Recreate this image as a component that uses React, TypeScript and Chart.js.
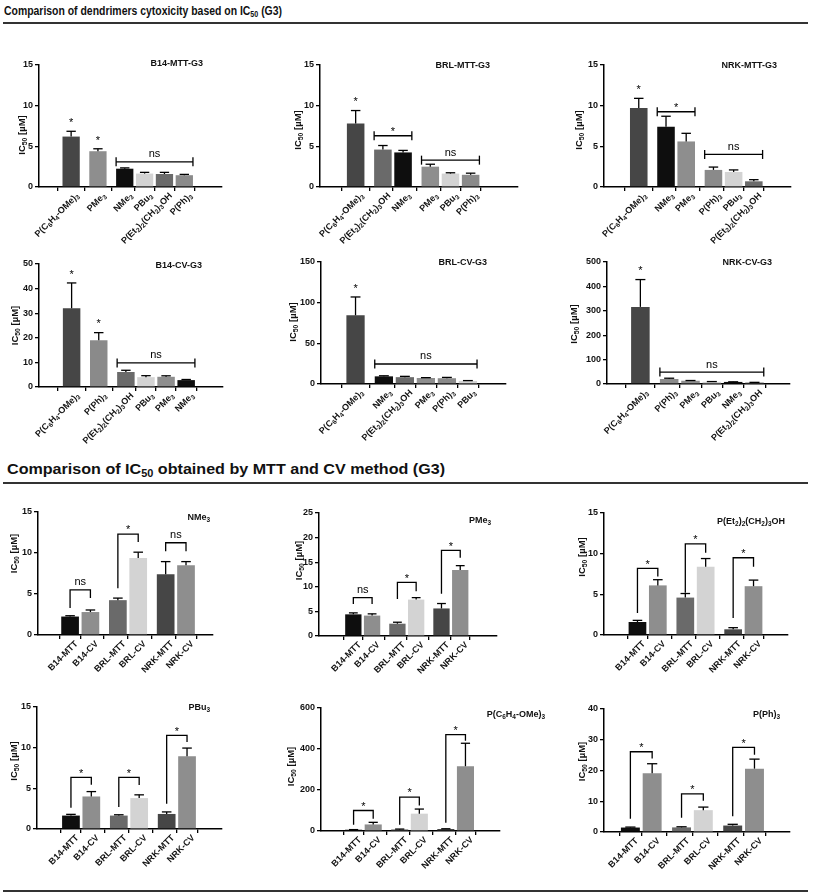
import React, { useEffect, useLayoutEffect, useRef } from 'react';
import { Chart, registerables } from 'chart.js';

Chart.register(...registerables);

const FONT = "'Liberation Sans', Arial, Helvetica, sans-serif";

// ---------------- Top section: cytotoxicity per cell line / method ----------------
const B14_MTT_LABELS = ['P(C₆H₄-OMe)₃', 'PMe₃', 'NMe₃', 'PBu₃', 'P(Et₂)₂(CH₂)₃OH', 'P(Ph)₃'];
const B14_MTT_VALUES = [6.2, 4.4, 2.25, 1.65, 1.6, 1.45];
const B14_MTT_ERRORS = [0.65, 0.3, 0.1, 0.15, 0.2, 0.1];
const B14_MTT_GROUPS = [0, 1, 2, 2, 2, 2];
const B14_MTT_STARS = [0, 1];
const B14_MTT_BRACKETS = [{ from: 2, to: 5, y: 3.1, label: 'ns' }];

const BRL_MTT_LABELS = ['P(C₆H₄-OMe)₃', 'P(Et₂)₂(CH₂)₃OH', 'NMe₃', 'PMe₃', 'PBu₃', 'P(Ph)₃'];
const BRL_MTT_VALUES = [7.8, 4.6, 4.25, 2.5, 1.65, 1.5];
const BRL_MTT_ERRORS = [1.6, 0.5, 0.25, 0.3, 0.1, 0.2];
const BRL_MTT_GROUPS = [0, 1, 1, 2, 2, 2];
const BRL_MTT_STARS = [0];
const BRL_MTT_BRACKETS = [
  { from: 1, to: 2, y: 6.3, label: '*' },
  { from: 3, to: 5, y: 3.3, label: 'ns' },
];

const NRK_MTT_LABELS = ['P(C₆H₄-OMe)₃', 'NMe₃', 'PMe₃', 'P(Ph)₃', 'PBu₃', 'P(Et₂)₂(CH₂)₃OH'];
const NRK_MTT_VALUES = [9.7, 7.4, 5.6, 2.1, 1.85, 0.7];
const NRK_MTT_ERRORS = [1.2, 1.3, 1.0, 0.35, 0.25, 0.2];
const NRK_MTT_GROUPS = [0, 1, 1, 2, 2, 2];
const NRK_MTT_STARS = [0];
const NRK_MTT_BRACKETS = [
  { from: 1, to: 2, y: 9.25, label: '*' },
  { from: 3, to: 5, y: 4.0, label: 'ns' },
];

const B14_CV_LABELS = ['P(C₆H₄-OMe)₃', 'P(Ph)₃', 'P(Et₂)₂(CH₂)₃OH', 'PBu₃', 'PMe₃', 'NMe₃'];
const B14_CV_VALUES = [32, 19, 6.1, 4.0, 4.15, 2.8];
const B14_CV_ERRORS = [10.3, 3.1, 0.7, 0.6, 0.4, 0.25];
const B14_CV_GROUPS = [0, 1, 2, 2, 2, 2];
const B14_CV_STARS = [0, 1];
const B14_CV_BRACKETS = [{ from: 2, to: 5, y: 9.8, label: 'ns' }];

const BRL_CV_LABELS = ['P(C₆H₄-OMe)₃', 'NMe₃', 'P(Et₂)₂(CH₂)₃OH', 'PMe₃', 'P(Ph)₃', 'PBu₃'];
const BRL_CV_VALUES = [84.5, 9.4, 8.4, 7.4, 7.1, 3.8];
const BRL_CV_ERRORS = [22.5, 0.7, 1.0, 0.4, 1.0, 0.4];
const BRL_CV_GROUPS = [0, 1, 1, 1, 1, 1];
const BRL_CV_STARS = [0];
const BRL_CV_BRACKETS = [{ from: 1, to: 5, y: 24.6, label: 'ns' }];

const NRK_CV_LABELS = ['P(C₆H₄-OMe)₃', 'P(Ph)₃', 'PMe₃', 'PBu₃', 'NMe₃', 'P(Et₂)₂(CH₂)₃OH'];
const NRK_CV_VALUES = [316, 20.6, 13.4, 9.0, 8.5, 6.0];
const NRK_CV_ERRORS = [112, 3.1, 0.9, 1.0, 0.45, 0.75];
const NRK_CV_GROUPS = [0, 1, 1, 1, 1, 1];
const NRK_CV_STARS = [0];
const NRK_CV_BRACKETS = [{ from: 1, to: 5, y: 49, label: 'ns' }];

// ---------------- Bottom section: MTT vs CV per compound ----------------
const METHOD_LABELS = ['B14-MTT', 'B14-CV', 'BRL-MTT', 'BRL-CV', 'NRK-MTT', 'NRK-CV'];
const METHOD_GROUPS = [0, 0, 1, 1, 2, 2];

const NME3_VALUES = [2.25, 2.8, 4.25, 9.4, 7.4, 8.5];
const NME3_ERRORS = [0.1, 0.25, 0.25, 0.7, 1.55, 0.45];
const NME3_HOOKS = [
  { from: 0, to: 1, y: 5.5, leg1: 3.3, leg2: 4.5, label: 'ns' },
  { from: 2, to: 3, y: 12.3, leg1: 5.7, leg2: 11.35, label: '*' },
  { from: 4, to: 5, y: 11.25, leg1: 10.2, leg2: 10.2, label: 'ns' },
];

const PME3_VALUES = [4.4, 4.15, 2.5, 7.4, 5.6, 13.4];
const PME3_ERRORS = [0.3, 0.35, 0.3, 0.4, 1.0, 0.9];
const PME3_HOOKS = [
  { from: 0, to: 1, y: 7.8, leg1: 6.5, leg2: 6.5, label: 'ns' },
  { from: 2, to: 3, y: 10.9, leg1: 7.5, leg2: 9.1, label: '*' },
  { from: 4, to: 5, y: 17.4, leg1: 8.6, leg2: 15.9, label: '*' },
];

const PET_VALUES = [1.6, 6.1, 4.6, 8.4, 0.7, 6.0];
const PET_ERRORS = [0.2, 0.7, 0.5, 1.0, 0.2, 0.75];
const PET_HOOKS = [
  { from: 0, to: 1, y: 8.2, leg1: 2.7, leg2: 7.2, label: '*' },
  { from: 2, to: 3, y: 11.2, leg1: 5.2, leg2: 10.1, label: '*' },
  { from: 4, to: 5, y: 9.5, leg1: 2.1, leg2: 8.4, label: '*' },
];

const PBU3_VALUES = [1.65, 4.0, 1.65, 3.8, 1.85, 8.95];
const PBU3_ERRORS = [0.15, 0.6, 0.1, 0.4, 0.25, 1.0];
const PBU3_HOOKS = [
  { from: 0, to: 1, y: 6.35, leg1: 2.6, leg2: 5.45, label: '*' },
  { from: 2, to: 3, y: 6.35, leg1: 2.7, leg2: 5.4, label: '*' },
  { from: 4, to: 5, y: 11.5, leg1: 3.1, leg2: 10.7, label: '*' },
];

const PC6_VALUES = [6.2, 32, 7.8, 84.5, 9.7, 316];
const PC6_ERRORS = [0.65, 10.3, 1.6, 22.5, 1.2, 112];
const PC6_HOOKS = [
  { from: 0, to: 1, y: 100, leg1: 30, leg2: 60, label: '*' },
  { from: 2, to: 3, y: 165, leg1: 30, leg2: 125, label: '*' },
  { from: 4, to: 5, y: 470, leg1: 40, leg2: 440, label: '*' },
];

const PPH3_VALUES = [1.45, 19.1, 1.5, 7.1, 2.1, 20.6];
const PPH3_ERRORS = [0.15, 3.1, 0.2, 1.0, 0.4, 3.1];
const PPH3_HOOKS = [
  { from: 0, to: 1, y: 26.1, leg1: 4.3, leg2: 23.9, label: '*' },
  { from: 2, to: 3, y: 12.4, leg1: 4.6, leg2: 10.2, label: '*' },
  { from: 4, to: 5, y: 27.5, leg1: 5.1, leg2: 25.1, label: '*' },
];

const Y_TITLE = 'IC₅₀ [µM]';

// ---------------- Styles ----------------
const COMPOUND_COLORS: Record<string, string> = {
  'P(C₆H₄-OMe)₃': '#464646',
  'PMe₃': '#8e8e8e',
  'NMe₃': '#0e0e0e',
  'PBu₃': '#d3d3d3',
  'P(Et₂)₂(CH₂)₃OH': '#6a6a6a',
  'P(Ph)₃': '#8a8a8a',
};
const METHOD_COLORS: Record<string, string> = {
  'B14-MTT': '#0e0e0e',
  'B14-CV': '#8e8e8e',
  'BRL-MTT': '#6a6a6a',
  'BRL-CV': '#d3d3d3',
  'NRK-MTT': '#464646',
  'NRK-CV': '#8e8e8e',
};

const GROUP_GAP = 0.35;
const PADL = 14;
const PADT = 14;
const PADR = 60;
const XH = 80;
const TICK_SIZE = 9;

type Flat = { from: number; to: number; y: number; label: string };
type Hook = { from: number; to: number; y: number; leg1: number; leg2: number; label: string };

interface PanelDef {
  title: string;
  labels: string[];
  values: number[];
  errors: number[];
  groups: number[];
  colors: string[];
  yMax: number;
  yStep: number;
  stars?: number[];
  flat?: Flat[];
  hooks?: Hook[];
  area: [number, number, number, number];
  yTitleGap: number;
  yTitleDy: number;
  padUnits: [number, number];
  titleRight: number;
  titleDy: number;
}

const top = (labels: string[]) => labels.map((l) => COMPOUND_COLORS[l]);
const bottom = METHOD_LABELS.map((l) => METHOD_COLORS[l]);

const PANELS: PanelDef[] = [
  { title: 'B14-MTT-G3', labels: B14_MTT_LABELS, values: B14_MTT_VALUES, errors: B14_MTT_ERRORS, groups: B14_MTT_GROUPS, colors: top(B14_MTT_LABELS), yMax: 15, yStep: 5, stars: B14_MTT_STARS, flat: B14_MTT_BRACKETS, area: [39, 65, 222, 187], yTitleGap: 17, yTitleDy: 9, padUnits: [0.85, 1.13], titleRight: 19, titleDy: -2 },
  { title: 'BRL-MTT-G3', labels: BRL_MTT_LABELS, values: BRL_MTT_VALUES, errors: BRL_MTT_ERRORS, groups: BRL_MTT_GROUPS, colors: top(BRL_MTT_LABELS), yMax: 15, yStep: 5, stars: BRL_MTT_STARS, flat: BRL_MTT_BRACKETS, area: [320, 65, 518, 187], yTitleGap: 22, yTitleDy: 4, padUnits: [0.95, 1.53], titleRight: 28, titleDy: 0 },
  { title: 'NRK-MTT-G3', labels: NRK_MTT_LABELS, values: NRK_MTT_VALUES, errors: NRK_MTT_ERRORS, groups: NRK_MTT_GROUPS, colors: top(NRK_MTT_LABELS), yMax: 15, yStep: 5, stars: NRK_MTT_STARS, flat: NRK_MTT_BRACKETS, area: [604, 65, 791, 187], yTitleGap: 25, yTitleDy: 4, padUnits: [0.95, 1.07], titleRight: 14, titleDy: 0 },
  { title: 'B14-CV-G3', labels: B14_CV_LABELS, values: B14_CV_VALUES, errors: B14_CV_ERRORS, groups: B14_CV_GROUPS, colors: top(B14_CV_LABELS), yMax: 50, yStep: 10, stars: B14_CV_STARS, flat: B14_CV_BRACKETS, area: [39, 264, 223, 387], yTitleGap: 24, yTitleDy: 0, padUnits: [0.86, 1.07], titleRight: 21, titleDy: 1 },
  { title: 'BRL-CV-G3', labels: BRL_CV_LABELS, values: BRL_CV_VALUES, errors: BRL_CV_ERRORS, groups: BRL_CV_GROUPS, colors: top(BRL_CV_LABELS), yMax: 150, yStep: 50, stars: BRL_CV_STARS, flat: BRL_CV_BRACKETS, area: [321, 262, 506, 384], yTitleGap: 28, yTitleDy: -1, padUnits: [0.91, 1.08], titleRight: 19, titleDy: 0 },
  { title: 'NRK-CV-G3', labels: NRK_CV_LABELS, values: NRK_CV_VALUES, errors: NRK_CV_ERRORS, groups: NRK_CV_GROUPS, colors: top(NRK_CV_LABELS), yMax: 500, yStep: 100, stars: NRK_CV_STARS, flat: NRK_CV_BRACKETS, area: [607, 262, 790, 384], yTitleGap: 33, yTitleDy: 1, padUnits: [0.85, 0.95], titleRight: 18, titleDy: 0 },
  { title: 'NMe₃', labels: METHOD_LABELS, values: NME3_VALUES, errors: NME3_ERRORS, groups: METHOD_GROUPS, colors: bottom, yMax: 15, yStep: 5, hooks: NME3_HOOKS, area: [38, 512, 213, 635], yTitleGap: 24, yTitleDy: -20, padUnits: [0.86, 0.61], titleRight: 3, titleDy: 5 },
  { title: 'PMe₃', labels: METHOD_LABELS, values: PME3_VALUES, errors: PME3_ERRORS, groups: METHOD_GROUPS, colors: bottom, yMax: 25, yStep: 5, hooks: PME3_HOOKS, area: [319, 513, 497, 636], yTitleGap: 20, yTitleDy: -14, padUnits: [1.04, 1.17], titleRight: 6, titleDy: 7 },
  { title: 'P(Et₂)₂(CH₂)₃OH', labels: METHOD_LABELS, values: PET_VALUES, errors: PET_ERRORS, groups: METHOD_GROUPS, colors: bottom, yMax: 15, yStep: 5, hooks: PET_HOOKS, area: [604, 513, 788, 635], yTitleGap: 22, yTitleDy: -17, padUnits: [0.89, 0.94], titleRight: 3, titleDy: 8 },
  { title: 'PBu₃', labels: METHOD_LABELS, values: PBU3_VALUES, errors: PBU3_ERRORS, groups: METHOD_GROUPS, colors: bottom, yMax: 15, yStep: 5, hooks: PBU3_HOOKS, area: [37, 707, 222, 829], yTitleGap: 23, yTitleDy: -7, padUnits: [0.91, 0.96], titleRight: 12, titleDy: 0 },
  { title: 'P(C₆H₄-OMe)₃', labels: METHOD_LABELS, values: PC6_VALUES, errors: PC6_ERRORS, groups: METHOD_GROUPS, colors: bottom, yMax: 600, yStep: 200, hooks: PC6_HOOKS, area: [321, 708, 500, 831], yTitleGap: 30, yTitleDy: -3, padUnits: [0.9, 1.0], titleRight: -45, titleDy: 6 },
  { title: 'P(Ph)₃', labels: METHOD_LABELS, values: PPH3_VALUES, errors: PPH3_ERRORS, groups: METHOD_GROUPS, colors: bottom, yMax: 40, yStep: 10, hooks: PPH3_HOOKS, area: [604, 709, 790, 832], yTitleGap: 22, yTitleDy: -9, padUnits: [0.5, 0.92], titleRight: 10, titleDy: 5 },
];

// ---------- rich text (Unicode subscript digits drawn as real subscripts) ----------
const SUBS = '₀₁₂₃₄₅₆₇₈₉';
function parseRich(text: string) {
  const segs: { t: string; sub: boolean }[] = [];
  for (const ch of text) {
    const k = SUBS.indexOf(ch);
    const sub = k >= 0;
    const c = sub ? String(k) : ch;
    const last = segs[segs.length - 1];
    if (last && last.sub === sub) last.t += c;
    else segs.push({ t: c, sub });
  }
  return segs;
}
function drawRich(ctx: CanvasRenderingContext2D, text: string, x: number, baseY: number, size: number, align: 'left' | 'right' | 'center') {
  const segs = parseRich(text);
  const f = (s: number) => `bold ${s}px ${FONT}`;
  let total = 0;
  const widths = segs.map((s) => {
    ctx.font = f(s.sub ? size * 0.72 : size);
    const w = ctx.measureText(s.t).width;
    total += w;
    return w;
  });
  let cx = align === 'left' ? x : align === 'right' ? x - total : x - total / 2;
  ctx.textAlign = 'left';
  ctx.textBaseline = 'alphabetic';
  segs.forEach((s, i) => {
    ctx.font = f(s.sub ? size * 0.72 : size);
    ctx.fillText(s.t, cx, s.sub ? baseY + size * 0.2 : baseY);
    cx += widths[i];
  });
}

function Panel({ def }: { def: PanelDef }) {
  const ref = useRef<HTMLCanvasElement>(null);
  const [l, t, r, b] = def.area;
  const W = def.yTitleGap + 6;
  const cLeft = Math.round(l - W - PADL);
  const cTop = t - PADT;
  const cW = Math.round(r - cLeft + PADR);
  const cH = Math.round(b - cTop + XH);
  const areaLeftInCanvas = l - cLeft;

  useEffect(() => {
    const positions = def.groups.map((g, i) => i + GROUP_GAP * g);
    const font = { family: FONT, size: TICK_SIZE, weight: 'bold' as const };
    const annot = {
      id: 'annot',
      afterDatasetsDraw(chart: any) {
        const ctx = chart.ctx as CanvasRenderingContext2D;
        const ys = chart.scales.y;
        const xs = chart.scales.x;
        const area = chart.chartArea;
        const bars = chart.getDatasetMeta(0).data as any[];
        ctx.save();
        ctx.strokeStyle = '#000';
        ctx.fillStyle = '#000';
        ctx.lineWidth = 1.3;
        const seg = (x1: number, y1: number, x2: number, y2: number) => {
          ctx.beginPath();
          ctx.moveTo(x1, y1);
          ctx.lineTo(x2, y2);
          ctx.stroke();
        };
        const errTop = (i: number) => ys.getPixelForValue(def.values[i] + def.errors[i]);
        bars.forEach((bar, i) => {
          const tp = errTop(i);
          const c = bar.width * 0.27;
          seg(bar.x, bar.y, bar.x, tp);
          seg(bar.x - c, tp, bar.x + c, tp);
        });
        const label = (txt: string, x: number, yc: number) => {
          ctx.font = `11px ${FONT}`;
          ctx.textAlign = 'center';
          ctx.textBaseline = 'alphabetic';
          const k = txt === '*' ? 0.62 : 0.27;
          ctx.fillText(txt, x, yc + k * 11);
        };
        (def.stars || []).forEach((i) => label('*', bars[i].x, errTop(i) - 12));
        (def.flat || []).forEach((f) => {
          const x1 = bars[f.from].x - bars[f.from].width / 2;
          const x2 = bars[f.to].x + bars[f.to].width / 2;
          const y = ys.getPixelForValue(f.y);
          seg(x1, y, x2, y);
          seg(x1, y - 4.5, x1, y + 4.5);
          seg(x2, y - 4.5, x2, y + 4.5);
          label(f.label, (x1 + x2) / 2, y - 7.5);
        });
        (def.hooks || []).forEach((h) => {
          const x1 = bars[h.from].x;
          const x2 = bars[h.to].x;
          const y = ys.getPixelForValue(h.y);
          ctx.beginPath();
          ctx.moveTo(x1, ys.getPixelForValue(h.leg1));
          ctx.lineTo(x1, y);
          ctx.lineTo(x2, y);
          ctx.lineTo(x2, ys.getPixelForValue(h.leg2));
          ctx.stroke();
          label(h.label, (x1 + x2) / 2, y - 7.5);
        });
        ctx.fillStyle = '#111';
        // panel title
        drawRich(ctx, def.title, area.right - def.titleRight, area.top + def.titleDy + 3.2, 9, 'right');
        // y-axis title
        ctx.save();
        ctx.translate(area.left - def.yTitleGap, (area.top + area.bottom) / 2 + def.yTitleDy);
        ctx.rotate(-Math.PI / 2);
        drawRich(ctx, Y_TITLE, 0, 3.4, 9.5, 'center');
        ctx.restore();
        // x tick labels, rotated 45°
        const axisY = xs.top;
        positions.forEach((p, i) => {
          ctx.save();
          ctx.translate(xs.getPixelForValue(p) + 6, axisY + 7);
          ctx.rotate(-Math.PI / 4);
          drawRich(ctx, def.labels[i], 0, 3.2, TICK_SIZE, 'right');
          ctx.restore();
        });
        ctx.restore();
      },
    };

    const chart = new Chart(ref.current!, {
      type: 'bar',
      data: {
        datasets: [
          {
            data: positions.map((x, i) => ({ x, y: def.values[i] })),
            backgroundColor: def.colors,
            borderWidth: 0,
            barPercentage: 0.87,
            categoryPercentage: 1,
          } as any,
        ],
      },
      options: {
        responsive: false,
        animation: false,
        events: [],
        layout: { padding: { left: PADL, top: PADT, right: PADR, bottom: 0 } },
        plugins: { legend: { display: false }, tooltip: { enabled: false } },
        scales: {
          x: {
            type: 'linear',
            min: -def.padUnits[0],
            max: positions[positions.length - 1] + def.padUnits[1],
            bounds: 'data',
            afterBuildTicks: (s: any) => {
              s.ticks = positions.map((v) => ({ value: v }));
            },
            afterFit: (s: any) => {
              s.height = XH;
              s.paddingLeft = 0;
              s.paddingRight = 0;
            },
            ticks: { display: false, autoSkip: false },
            grid: { drawOnChartArea: false, drawTicks: true, tickLength: 4, color: '#000', lineWidth: 1.3 },
            border: { display: true, color: '#000', width: 1.5 },
          } as any,
          y: {
            min: 0,
            max: def.yMax,
            afterFit: (s: any) => {
              s.width = areaLeftInCanvas - PADL;
            },
            ticks: { stepSize: def.yStep, font, color: '#111', padding: 2 },
            title: { display: false },
            grid: { drawOnChartArea: false, drawTicks: true, tickLength: 4, color: '#000', lineWidth: 1.3 },
            border: { display: true, color: '#000', width: 1.5 },
          } as any,
        },
      },
      plugins: [annot],
    });
    return () => chart.destroy();
  }, []);

  return (
    <canvas
      ref={ref}
      width={cW}
      height={cH}
      style={{ position: 'absolute', left: cLeft, top: cTop, width: cW, height: cH }}
    />
  );
}

function FitText({ left, centerY, width, size, children }: { left: number; centerY: number; width: number; size: number; children: React.ReactNode }) {
  const ref = useRef<HTMLDivElement>(null);
  useLayoutEffect(() => {
    const el = ref.current!;
    el.style.transform = 'none';
    const w = el.getBoundingClientRect().width;
    if (w > 0) el.style.transform = `scaleX(${width / w})`;
  }, []);
  return (
    <div
      ref={ref}
      style={{
        position: 'absolute',
        left,
        top: centerY - 0.49 * size,
        fontFamily: FONT,
        fontWeight: 'bold',
        fontSize: size,
        lineHeight: 1,
        whiteSpace: 'nowrap',
        color: '#111',
        transformOrigin: 'left center',
      }}
    >
      {children}
    </div>
  );
}

const subStyle: React.CSSProperties = { fontSize: '0.68em', verticalAlign: '-0.28em', lineHeight: 0 };

function Rule({ y }: { y: number }) {
  return <div style={{ position: 'absolute', left: 3, top: y, width: 805, height: 2, background: '#333' }} />;
}

export default function App() {
  return (
    <div style={{ position: 'absolute', left: 0, top: 0, width: 813, height: 895, background: '#fff', overflow: 'hidden' }}>
      <FitText left={4} centerY={10} width={278} size={13}>
        Comparison of dendrimers cytoxicity based on IC<sub style={subStyle}>50</sub> (G3)
      </FitText>
      <Rule y={22} />
      <FitText left={7} centerY={468} width={438} size={15}>
        Comparison of IC<sub style={subStyle}>50</sub> obtained by MTT and CV method (G3)
      </FitText>
      <Rule y={482} />
      <Rule y={890} />
      {PANELS.map((p, i) => (
        <Panel key={i} def={p} />
      ))}
    </div>
  );
}
